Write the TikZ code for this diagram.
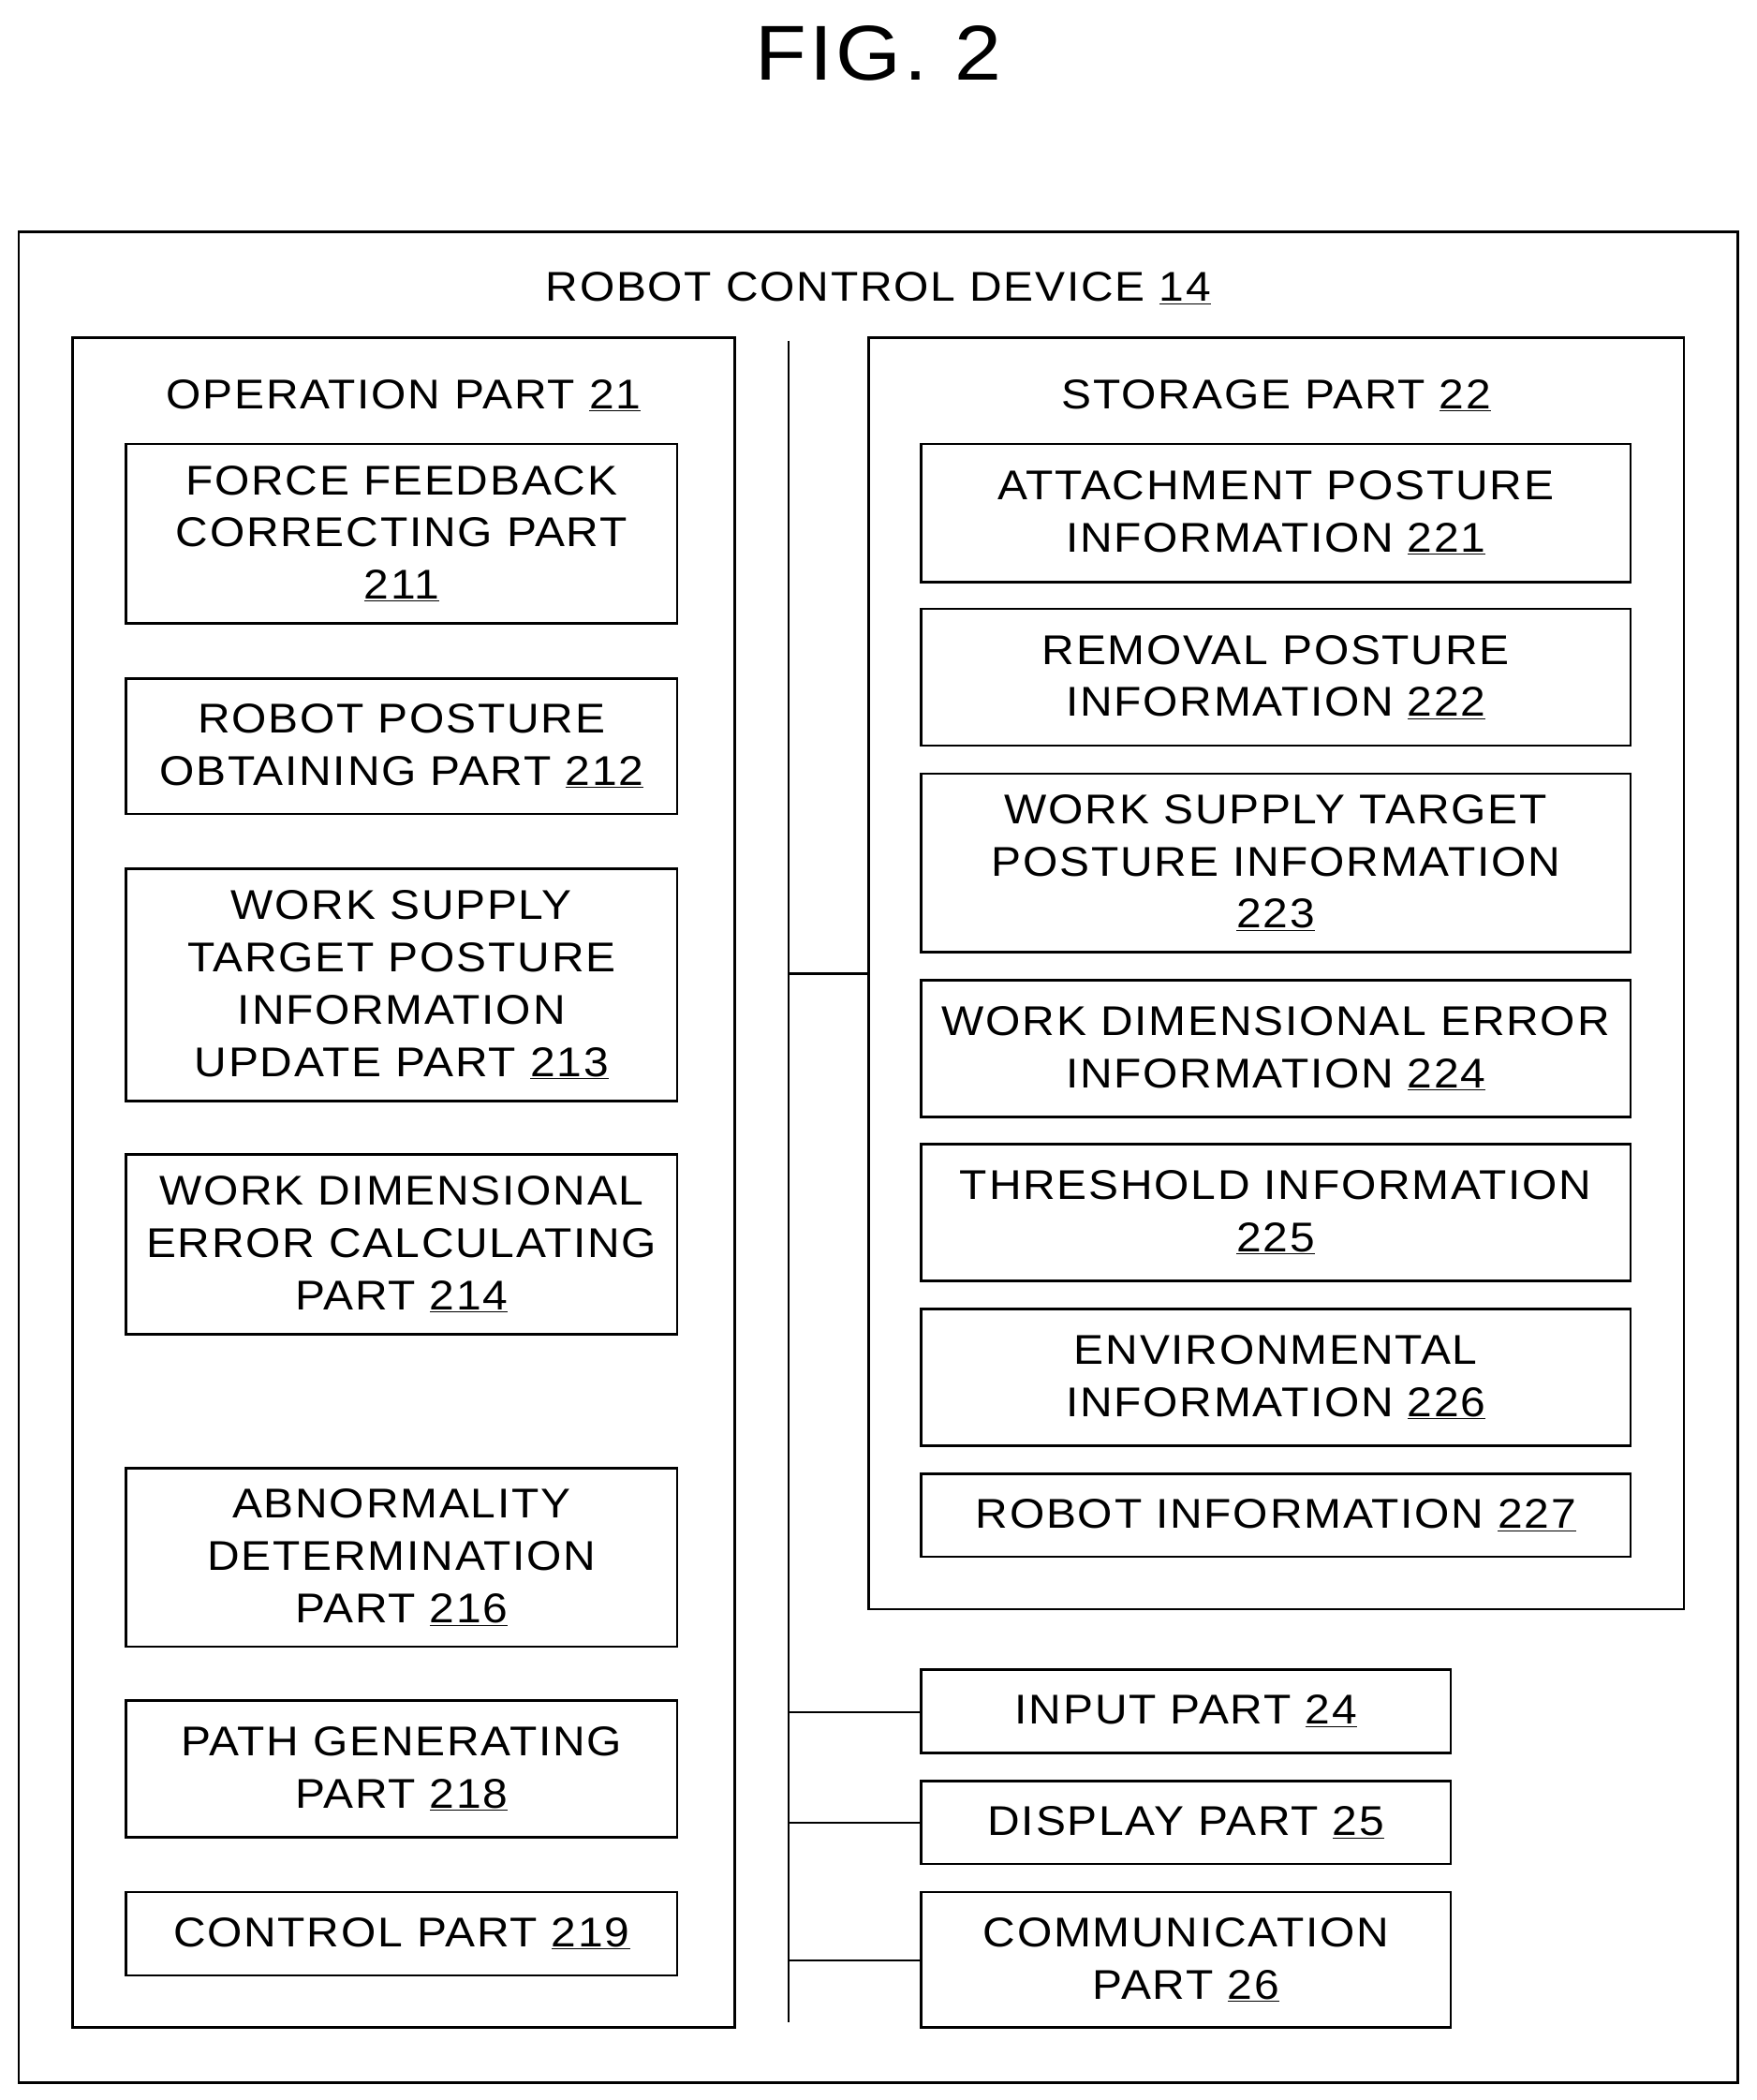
\documentclass[tikz,border=0pt]{standalone}
\usepackage{fontspec}
\setmainfont{Liberation Sans}[FakeStretch=1.08,LetterSpace=4]
\newcommand\nm[1]{\underline{#1}}
\begin{document}
\begin{tikzpicture}[x=1pt,y=-1pt,
 box/.style={draw,line width=1.8pt,inner sep=0pt,align=center,font=\fontsize{31}{39}\selectfont},
 lbl/.style={inner sep=0pt,font=\fontsize{31}{39}\selectfont},
 ln/.style={line width=1.6pt}]
\useasboundingbox (0,0) rectangle (1310,1566);
\newcommand\bx[6]{\node[box,minimum width={#3-#2},minimum height={#5-#4}] (#1) at ({(#2+#3)/2},{(#4+#5)/2}) {#6};}
\node[font=\fontsize{58}{70}\selectfont] (fig) at (655,40) {FIG. 2};
\bx{outer}{14}{1296}{173}{1553}{}
\node[lbl] (title) at (655,215) {ROBOT CONTROL DEVICE \nm{14}};
\bx{op}{54}{548}{252}{1512}{}
\node[lbl] (oplbl) at (301,295) {OPERATION PART \nm{21}};
\bx{b211}{94}{505}{331}{465}{FORCE FEEDBACK\\CORRECTING PART\\\nm{211}}
\bx{b212}{94}{505}{506}{607}{ROBOT POSTURE\\OBTAINING PART \nm{212}}
\bx{b213}{94}{505}{648}{821}{WORK SUPPLY\\TARGET POSTURE\\INFORMATION\\UPDATE PART \nm{213}}
\bx{b214}{94}{505}{861}{995}{WORK DIMENSIONAL\\ERROR CALCULATING\\PART \nm{214}}
\bx{b216}{94}{505}{1095}{1228}{ABNORMALITY\\DETERMINATION\\PART \nm{216}}
\bx{b218}{94}{505}{1268}{1370}{PATH GENERATING\\PART \nm{218}}
\bx{b219}{94}{505}{1411}{1473}{CONTROL PART \nm{219}}
\bx{st}{648}{1256}{252}{1200}{}
\node[lbl] (stlbl) at (952,295) {STORAGE PART \nm{22}};
\bx{b221}{687}{1216}{331}{434}{ATTACHMENT POSTURE\\INFORMATION \nm{221}}
\bx{b222}{687}{1216}{454}{556}{REMOVAL POSTURE\\INFORMATION \nm{222}}
\bx{b223}{687}{1216}{577}{710}{WORK SUPPLY TARGET\\POSTURE INFORMATION\\\nm{223}}
\bx{b224}{687}{1216}{731}{833}{WORK DIMENSIONAL ERROR\\INFORMATION \nm{224}}
\bx{b225}{687}{1216}{853}{955}{THRESHOLD INFORMATION\\\nm{225}}
\bx{b226}{687}{1216}{976}{1078}{ENVIRONMENTAL\\INFORMATION \nm{226}}
\bx{b227}{687}{1216}{1099}{1161}{ROBOT INFORMATION \nm{227}}
\bx{b24}{687}{1082}{1245}{1307}{INPUT PART \nm{24}}
\bx{b25}{687}{1082}{1328}{1390}{DISPLAY PART \nm{25}}
\bx{b26}{687}{1082}{1411}{1512}{COMMUNICATION\\PART \nm{26}}
\coordinate (bt) at (588,254);
\coordinate (bb) at (588,1508);
\coordinate (j22) at (588,726);
\coordinate (j24) at (588,1277);
\coordinate (j25) at (588,1359);
\coordinate (j26) at (588,1462);
\draw[ln] (bt) -- (bb);
\draw[ln] (j22) -- (st.west |- j22);
\draw[ln] (j24) -- (b24.west |- j24);
\draw[ln] (j25) -- (b25.west |- j25);
\draw[ln] (j26) -- (b26.west |- j26);
\end{tikzpicture}
\end{document}
